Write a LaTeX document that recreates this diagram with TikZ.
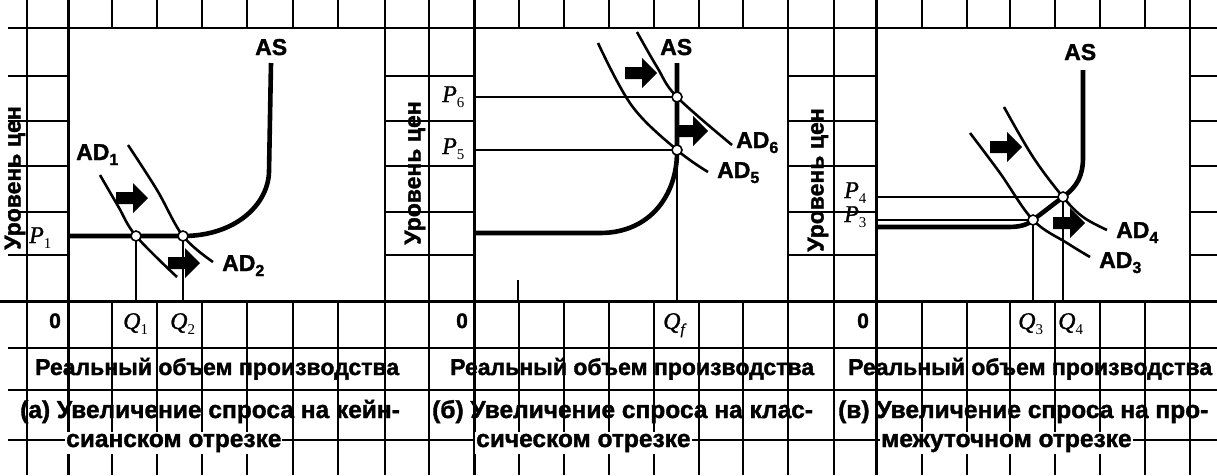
\documentclass[tikz,border=0pt]{standalone}
\usepackage{fontspec}
\setmainfont{Liberation Sans}[BoldFeatures={FakeBold=1.5}]
\newfontfamily\tnr{Liberation Serif}[ItalicFeatures={FakeBold=1}]
\newcommand\sbl[1]{\raisebox{-5pt}{\fontsize{16}{16}\selectfont #1}}
\newcommand\sbq[1]{\raisebox{-5pt}{\upshape\fontsize{15}{15}\selectfont #1}}
\tikzset{
 gridln/.style={line width=1.6pt},
 axisln/.style={line width=3pt},
 ascurve/.style={line width=4.6pt, line join=round},
 adcurve/.style={line width=2.6pt},
 dropln/.style={line width=1.8pt},
 eqpt/.style={circle, draw, fill=white, line width=1.6pt, inner sep=0pt, minimum size=10pt},
 lbl/.style={inner sep=0pt, anchor=base west, font=\bfseries\fontsize{23}{23}\selectfont},
 pql/.style={inner sep=0pt, anchor=base west, font=\tnr\itshape\fontsize{24}{24}\selectfont},
 zl/.style={inner sep=0pt, anchor=base west, font=\bfseries\fontsize{21}{21}\selectfont},
 axt/.style={inner sep=0pt, rotate=90, font=\bfseries\fontsize{23}{23}\selectfont},
 capt/.style={inner sep=0pt, anchor=base west, font=\bfseries\fontsize{23}{23}\selectfont},
 capl/.style={capt, font=\bfseries\fontsize{24.5}{24.5}\selectfont},
 captw/.style={capl, fill=white, inner xsep=1pt, inner ysep=2pt},
 barrow/.pic={\fill (-17,-6) -- (0,-6) -- (0,-15) -- (15,0) -- (0,15) -- (0,6) -- (-17,6) -- cycle;}
}
\begin{document}
\begin{tikzpicture}[x=1pt,y=-1pt]
\useasboundingbox (0,0) rectangle (1217,475);
\fill[white] (0,0) rectangle (1217,475);
% graph paper
\foreach \gx in {27,68,112,157,202,247,293,338,385,429,474,519,564,609,654,699,743,788,834,876,922,967,1010,1055,1100,1145,1190}
  \draw[gridln] (\gx,0) -- (\gx,475);
\foreach \gy in {28,76,121,166,212,255,301,348,390,440}
  \draw[gridln] (8,\gy) -- (1217,\gy);
% plot areas
\draw[gridln, fill=white] (68,28) rectangle (385,301);
\draw[gridln, fill=white] (474,28) rectangle (788,301);
\draw[gridln, fill=white] (876,28) rectangle (1190,301);
\draw[gridln] (518,280) -- (518,301);
% axes
\draw[axisln] (0,301) -- (1217,301);
\foreach \ax in {68,474,876} \draw[axisln] (\ax,0) -- (\ax,475);

% ---------- panel (a)
\coordinate (qa1) at (136,301);
\coordinate (qa2) at (183,301);
\draw[dropln] (136,236) -- (qa1);
\draw[dropln] (183,236) -- (qa2);
\draw[ascurve] (68,236) -- (183,236) .. controls (235,236) and (268,205) .. (269,172) -- (271,63);
\draw[adcurve] plot[smooth, tension=0.6] coordinates {(100,175) (118,206) (136,236) (177,277)};
\draw[adcurve] plot[smooth, tension=0.6] coordinates {(128,145) (157,190) (183,236) (213,262)};
\node[eqpt] (ea1) at (136,236) {};
\node[eqpt] (ea2) at (183,236) {};
\pic at (133,198) {barrow};
\pic at (185,263) {barrow};
\node[lbl] (asa) at (255,55) {AS};
\node[lbl] (ad1) at (76,160) {AD\sbl{1}};
\node[lbl] (ad2) at (222,271) {AD\sbl{2}};
\node[pql] (p1) at (29,243) {P\sbq{1}};
\node[axt] (ya) at (15,178) {Уровень цен};
\node[zl] (za) at (49,328) {0};
\node[pql] (q1) at (123,329) {Q\sbq{1}};
\node[pql] (q2) at (170,329) {Q\sbq{2}};

% ---------- panel (b)
\coordinate (qbf) at (677,301);
\coordinate (pb6) at (474,97);
\coordinate (pb5) at (474,150);
\draw[dropln] (677,150) -- (qbf);
\draw[dropln] (pb6) -- (677,97);
\draw[dropln] (pb5) -- (677,150);
\draw[ascurve] (474,233) -- (600,233) .. controls (650,233) and (677,195) .. (677,152) -- (677,63);
\draw[adcurve] plot[smooth, tension=0.6] coordinates {(598,43) (632,106) (677,150) (708,172)};
\draw[adcurve] plot[smooth, tension=0.6] coordinates {(637,32) (657,67) (677,97) (732,145)};
\node[eqpt] (eb6) at (677,97) {};
\node[eqpt] (eb5) at (677,150) {};
\pic at (642,73) {barrow};
\pic at (693,131) {barrow};
\node[lbl] (asb) at (660,55) {AS};
\node[lbl] (ad6) at (736,148) {AD\sbl{6}};
\node[lbl] (ad5) at (717,178) {AD\sbl{5}};
\node[pql] (p6) at (442,102) {P\sbq{6}};
\node[pql] (p5) at (442,154) {P\sbq{5}};
\node[axt] (yb) at (415,173) {Уровень цен};
\node[zl] (zb) at (456,328) {0};
\node[pql] (qf) at (663,329) {Q\sbq{\itshape f}};

% ---------- panel (c)
\coordinate (qc3) at (1033,301);
\coordinate (qc4) at (1063,301);
\coordinate (pc4) at (876,197);
\coordinate (pc3) at (876,220);
\draw[dropln] (1033,220) -- (qc3);
\draw[dropln] (1063,197) -- (qc4);
\draw[dropln] (pc4) -- (1063,197);
\draw[dropln] (pc3) -- (1033,220);
\draw[ascurve] (876,227) -- (1008,227) .. controls (1020,227) and (1027,225) .. (1033,220) -- (1063,197) .. controls (1078,186) and (1083,175) .. (1083,157) -- (1083,70);
\draw[adcurve] plot[smooth, tension=0.6] coordinates {(970,133) (1000,173) (1033,220) (1067,243) (1090,257)};
\draw[adcurve] plot[smooth, tension=0.6] coordinates {(1004,107) (1033,157) (1063,197) (1083,217) (1107,230)};
\node[eqpt] (ec3) at (1033,220) {};
\node[eqpt] (ec4) at (1063,197) {};
\pic at (1007,147) {barrow};
\pic at (1070,223) {barrow};
\node[lbl] (asc) at (1064,60) {AS};
\node[lbl] (ad4) at (1116,238) {AD\sbl{4}};
\node[lbl] (ad3) at (1099,268) {AD\sbl{3}};
\node[pql] (p4) at (844,198) {P\sbq{4}};
\node[pql] (p3) at (844,222) {P\sbq{3}};
\node[axt] (yc) at (818,180) {Уровень цен};
\node[zl] (zc) at (857,328) {0};
\node[pql] (q3) at (1018,329) {Q\sbq{3}};
\node[pql] (q4) at (1058,329) {Q\sbq{4}};

% ---------- captions
\node[capt] (ra) at (35,375) {Реальный объем производства};
\node[capt] (rb) at (450,375) {Реальный объем производства};
\node[capt] (rc) at (848,375) {Реальный объем производства};
\node[capl] (ca1) at (20,418) {(а) Увеличение спроса на кейн-};
\node[capl] (cb1) at (432,418) {(б) Увеличение спроса на клас-};
\node[capl] (cc1) at (838,418) {(в) Увеличение спроса на про-};
\node[captw] (ca2) at (65,447) {сианском отрезке};
\node[captw] (cb2) at (475,447) {сическом отрезке};
\node[captw] (cc2) at (880,447) {межуточном отрезке};
\end{tikzpicture}
\end{document}
